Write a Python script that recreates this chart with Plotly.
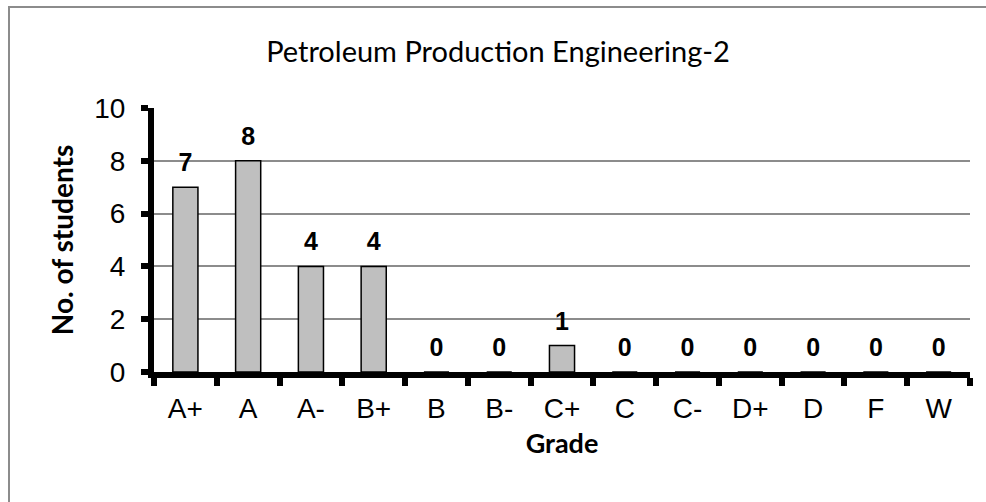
import plotly.graph_objects as go

grades = ["A+", "A", "A-", "B+", "B", "B-", "C+", "C", "C-", "D+", "D", "F", "W"]
students = [7, 8, 4, 4, 0, 0, 1, 0, 0, 0, 0, 0, 0]
y_ticks = [0, 2, 4, 6, 8, 10]

fig = go.Figure()
fig.add_trace(go.Bar(
    x=grades, y=students,
    marker=dict(color="#bfbfbf", line=dict(color="#000000", width=1.5)),
    width=0.4,
    hoverinfo="skip",
))
fig.add_trace(go.Scatter(
    x=grades, y=students,
    mode="markers+text",
    marker=dict(size=14, opacity=0),
    text=["<b>%d</b>" % v for v in students],
    textposition="top center",
    textfont=dict(family="Liberation Sans, Arial", size=25, color="#000000"),
    cliponaxis=False,
    hoverinfo="skip",
))

L, R, T, B = 154, 16, 108, 130
W, H = 986, 502
pw, ph = W - L - R, H - T - B

fig.update_layout(
    width=W, height=H,
    margin=dict(l=L, r=R, t=T, b=B),
    paper_bgcolor="white", plot_bgcolor="white",
    showlegend=False,
    title=dict(text="Petroleum Production Engineering-2", x=(498) / W, xanchor="center",
               y=1 - 52 / H, yanchor="middle",
               font=dict(family="Lato, Noto Sans", size=29, color="#000000")),
    xaxis=dict(
        type="category", showgrid=False,
        showline=True, linecolor="#000000", linewidth=6,
        ticks="outside", tickson="boundaries", ticklen=8, tickwidth=6, tickcolor="#000000",
        tickfont=dict(family="Liberation Sans, Arial", size=28, color="#000000"),
        ticklabelstandoff=6,
        title=dict(text="<b>Grade</b>", font=dict(family="Lato, Noto Sans", size=27, color="#000000"), standoff=14),
        range=[-0.5, len(grades) - 0.5],
        automargin=False,
    ),
    yaxis=dict(
        range=[0, 10], tickvals=y_ticks,
        showgrid=True, gridcolor="#8c8c8c", gridwidth=2,
        showline=True, linecolor="#000000", linewidth=6,
        ticks="outside", ticklen=7, tickwidth=6, tickcolor="#000000",
        tickfont=dict(family="Liberation Sans, Arial", size=28, color="#000000"),
        ticklabelstandoff=10,
        zeroline=False,
        title=dict(text="<b>No. of students</b>", font=dict(family="Lato, Noto Sans", size=28, color="#000000"), standoff=14),
        automargin=False,
    ),
    shapes=[dict(type="rect", xref="paper", yref="paper",
                 x0=(9 - L) / pw, x1=(1000 - L) / pw,
                 y0=-(520 - T - ph) / ph, y1=1 + (T - 7) / ph,
                 line=dict(color="#8c8c8c", width=2), fillcolor="rgba(0,0,0,0)", layer="below")],
)

fig.write_html("out.html", config={"displayModeBar": False},
               post_script="document.body.style.margin='0';document.body.style.overflow='hidden';")
